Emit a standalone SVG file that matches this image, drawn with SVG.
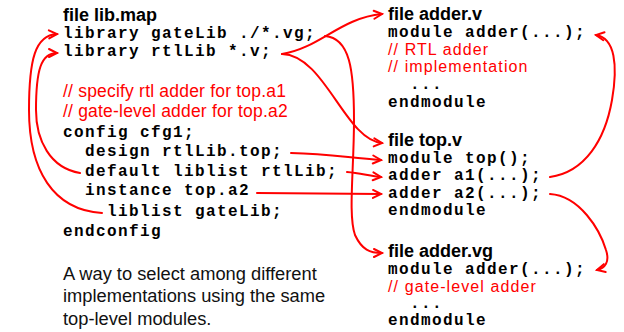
<svg xmlns="http://www.w3.org/2000/svg" width="624" height="332" viewBox="0 0 624 332">
<style>
.h{font-family:"Liberation Sans",Arial,sans-serif;font-weight:bold;font-size:18px;fill:#000}
.m{font-family:"Liberation Mono","Courier New",monospace;font-weight:bold;font-size:16px;letter-spacing:1.4px;fill:#000}
.c{font-family:"Liberation Sans",Arial,sans-serif;font-size:17.5px;letter-spacing:0.2px;fill:#ff0000}
.c2{font-family:"Liberation Sans",Arial,sans-serif;font-size:16px;letter-spacing:1.1px;fill:#ff0000}
.t{font-family:"Liberation Sans",Arial,sans-serif;font-size:18.3px;fill:#111}
.k{fill:none;stroke:#ff0000;stroke-width:2;stroke-linecap:round}
</style>
<defs>
<marker id="ah" markerUnits="userSpaceOnUse" markerWidth="14" markerHeight="14" viewBox="-11 -7 14 14" refX="0" refY="0" orient="auto">
<path d="M-8,-4 L0,0 L-8,4" fill="none" stroke="#ff0000" stroke-width="2" stroke-linecap="round" stroke-linejoin="miter"/>
</marker>
</defs>
<rect width="624" height="332" fill="#fff"/>
<g id="libmap">
<text class="h" x="63" y="21">file lib.map</text>
<text class="m" x="63" y="38">library gateLib ./*.vg;</text>
<text class="m" x="63" y="56">library rtlLib *.v;</text>
<text class="c" x="63" y="97">// specify rtl adder for top.a1</text>
<text class="c" x="63" y="116.5">// gate-level adder for top.a2</text>
<text class="m" x="63" y="137">config cfg1;</text>
<text class="m" x="85" y="156">design rtlLib.top;</text>
<text class="m" x="85" y="176">default liblist rtlLib;</text>
<text class="m" x="85" y="195">instance top.a2</text>
<text class="m" x="107" y="216">liblist gateLib;</text>
<text class="m" x="63" y="236">endconfig</text>
</g>
<g id="adder_v">
<text class="h" x="388" y="20">file adder.v</text>
<text class="m" x="388" y="36.8">module adder(...);</text>
<text class="c2" x="388" y="55.2">// RTL adder</text>
<text class="c2" x="388" y="72.2">// implementation</text>
<text class="m" x="410" y="89.2">...</text>
<text class="m" x="388" y="106.5">endmodule</text>
</g>
<g id="top_v">
<text class="h" x="388" y="146">file top.v</text>
<text class="m" x="388" y="163.2">module top();</text>
<text class="m" x="388" y="180.4">adder a1(...);</text>
<text class="m" x="388" y="197.6">adder a2(...);</text>
<text class="m" x="388" y="214.8">endmodule</text>
</g>
<g id="adder_vg">
<text class="h" x="388" y="257">file adder.vg</text>
<text class="m" x="388" y="273.6">module adder(...);</text>
<text class="c2" x="388" y="291.6">// gate-level adder</text>
<text class="m" x="410" y="308">...</text>
<text class="m" x="388" y="325">endmodule</text>
</g>
<g id="caption">
<text class="t" x="63" y="280">A way to select among different</text>
<text class="t" x="63" y="302">implementations using the same</text>
<text class="t" x="63" y="325">top-level modules.</text>
</g>
<g id="connectors">
<path class="k" marker-end="url(#ah)" d="M102,213 C53,210 29,170 29,110 C29,60 35,35 57,34"/>
<path class="k" marker-end="url(#ah)" d="M80,173 C50,168 36,140 36,110 C36,70 41,53 57,53"/>
<path class="k" marker-end="url(#ah)" d="M282,54 C320,48 340,18 382,14"/>
<path class="k" marker-end="url(#ah)" d="M282,54 C325,55 345,140 382,143"/>
<path class="k" marker-end="url(#ah)" d="M325,36 C350,38 354,70 354,120 C354,170 348,215 355,235 C362,250 370,253 382,253"/>
<path class="k" marker-end="url(#ah)" d="M291,153 C330,154 350,158 381,160"/>
<path class="k" marker-end="url(#ah)" d="M347,172 C360,173 370,176 381,177"/>
<path class="k" marker-end="url(#ah)" d="M257,193 L381,194"/>
<path class="k" marker-end="url(#ah)" d="M550,177 C585,172 605,140 612,100 C618,65 615,38 596,35"/>
<path class="k" marker-end="url(#ah)" d="M550,194 C580,196 600,230 606,250 C610,262 605,268 597,270"/>
</g>
</svg>
